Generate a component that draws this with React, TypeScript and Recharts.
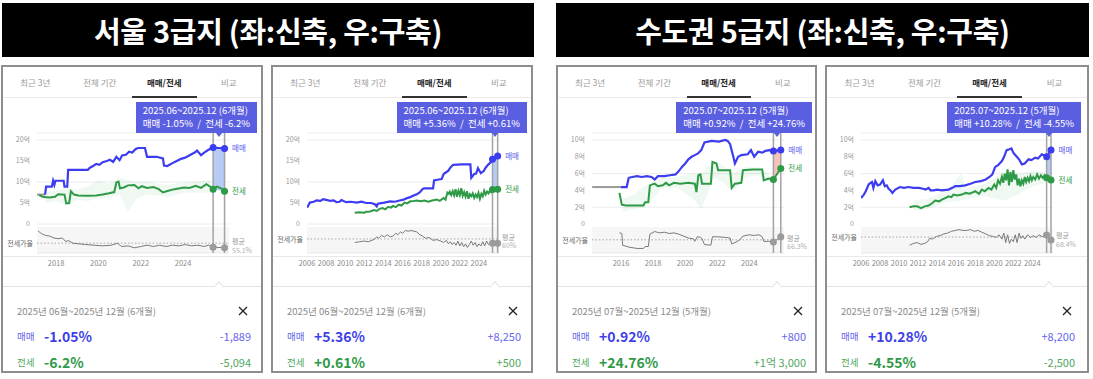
import React from 'react';
import {
  ComposedChart,
  Line,
  Area,
  XAxis,
  YAxis,
  CartesianGrid,
  ReferenceLine,
  ReferenceDot,
  ReferenceArea,
} from 'recharts';

type Pt = [number, number];
type Rng = [number, number, number];

const FONT = "'Noto Sans CJK KR', 'Noto Sans', sans-serif";
const SALE = '#3c3cf0';
const JEONSE = '#2e9a47';
const TIP_BG = '#5a5ee0';

// ---- 서울 3급지 신축 ----
const seoulNewPre: Pt[] = [[2017.1, 7.0], [2017.48, 7.0]];
const seoulNewSale: Pt[] = [
  [2017.48, 7.0], [2017.53, 8.9], [2017.8, 8.9], [2017.86, 10.3], [2017.92, 9.3], [2017.97, 10.3],
  [2018.36, 10.3], [2018.4, 8.9], [2018.53, 8.9], [2018.57, 12.9], [2019.5, 12.9], [2019.6, 13.4],
  [2019.75, 13.8], [2019.9, 14.3], [2020.05, 14.1], [2020.2, 14.7], [2020.4, 15.0], [2020.55, 15.3],
  [2020.7, 14.8], [2020.85, 16.0], [2021.0, 15.2], [2021.12, 16.3], [2021.3, 16.5], [2021.45, 17.2],
  [2021.6, 17.0], [2021.75, 17.8], [2021.87, 18.1], [2022.2, 18.1], [2022.3, 16.0], [2022.75, 16.0],
  [2023.05, 15.6], [2023.1, 13.9], [2023.25, 13.8], [2023.5, 14.5], [2023.7, 15.0], [2023.9, 15.5],
  [2024.1, 15.8], [2024.35, 16.5], [2024.55, 17.0], [2024.66, 17.5], [2024.85, 16.4], [2025.0, 17.0],
  [2025.18, 17.6], [2025.3, 17.9], [2025.42, 18.2], [2025.7, 18.1], [2025.96, 18.0],
];
const seoulNewJeonse: Pt[] = [
  [2017.2, 6.9], [2017.4, 6.4], [2017.7, 6.3], [2017.95, 6.5], [2018.1, 7.1], [2018.4, 7.0],
  [2018.48, 4.9], [2018.62, 5.0], [2018.7, 7.8], [2018.85, 7.0], [2019.05, 6.8], [2019.5, 6.7],
  [2019.9, 6.8], [2020.2, 7.0], [2020.5, 7.3], [2020.75, 7.6], [2020.85, 9.9], [2020.95, 10.1],
  [2021.02, 8.5], [2021.2, 8.7], [2021.4, 9.2], [2021.7, 9.3], [2021.9, 8.5], [2022.05, 9.0],
  [2022.3, 8.6], [2022.6, 8.8], [2022.85, 8.3], [2023.05, 7.5], [2023.3, 7.9], [2023.6, 8.3],
  [2023.85, 8.5], [2024.05, 8.7], [2024.3, 8.6], [2024.6, 9.1], [2024.85, 8.6], [2025.1, 9.5],
  [2025.25, 9.0], [2025.42, 8.3], [2025.6, 8.9], [2025.8, 8.5], [2025.96, 7.8],
];
const seoulNewSpread: Rng[] = [
  [2017.5, 5.0, 7.5], [2018.0, 5.5, 8.0], [2018.5, 4.5, 8.5], [2019.0, 5.8, 8.2], [2019.5, 5.5, 9.0],
  [2020.0, 6.0, 10.5], [2020.5, 6.2, 9.5], [2021.0, 7.0, 11.0], [2021.4, 3.0, 10.5], [2021.8, 6.0, 10.0],
  [2022.3, 7.0, 10.2], [2022.8, 6.8, 9.5], [2023.3, 6.5, 9.3], [2023.8, 7.2, 9.8], [2024.3, 7.5, 10.0],
  [2024.8, 7.4, 10.2], [2025.3, 7.5, 10.5],
];
const seoulNewRatio: Pt[] = [
  [2017.15, 74], [2017.3, 70], [2017.5, 67], [2017.7, 66], [2017.9, 63], [2018.1, 62], [2018.3, 63],
  [2018.45, 58], [2018.6, 59], [2018.8, 55], [2019.1, 54], [2019.4, 53], [2019.8, 52], [2020.2, 51],
  [2020.6, 52], [2020.9, 55], [2021.1, 50], [2021.4, 51], [2021.7, 48], [2022.0, 50], [2022.3, 52],
  [2022.6, 50], [2022.9, 52], [2023.2, 50], [2023.5, 52], [2023.8, 51], [2024.1, 53], [2024.4, 51],
  [2024.7, 52], [2025.0, 50], [2025.2, 52], [2025.42, 49], [2025.96, 48],
];

// ---- 서울 3급지 구축 ----
const seoulOldSale: Pt[] = [
  [2006.03, 3.9], [2006.3, 5.1], [2006.7, 5.3], [2007.0, 5.6], [2007.4, 5.5], [2007.7, 5.9],
  [2008.1, 5.7], [2008.4, 5.5], [2008.8, 5.6], [2009.1, 5.2], [2009.4, 5.3], [2009.6, 5.7],
  [2010.1, 5.2], [2010.6, 5.3], [2011.2, 5.1], [2011.7, 5.3], [2012.2, 5.0], [2012.7, 5.0],
  [2013.1, 4.7], [2013.3, 4.2], [2013.4, 4.8], [2013.6, 4.9], [2014.1, 5.1], [2014.7, 5.4],
  [2015.2, 5.3], [2015.7, 5.6], [2016.1, 5.8], [2016.4, 6.1], [2016.8, 6.4], [2017.1, 6.7],
  [2017.5, 7.1], [2017.8, 7.5], [2018.1, 8.3], [2018.25, 8.5], [2019.2, 8.5], [2019.3, 10.4],
  [2019.8, 10.6], [2020.1, 10.7], [2020.3, 11.9], [2020.8, 12.7], [2021.0, 13.4], [2021.3, 14.1],
  [2022.2, 14.2], [2023.1, 14.2], [2023.2, 11.0], [2023.5, 11.9], [2023.7, 12.0], [2023.9, 13.3],
  [2024.2, 12.1], [2024.5, 12.6], [2024.7, 13.4], [2025.0, 14.2], [2025.2, 14.6], [2025.42, 15.4],
  [2025.96, 16.2],
];
const seoulOldJeonse: Pt[] = [
  [2011.0, 2.7], [2011.5, 2.8], [2012.0, 2.7], [2012.2, 2.9], [2012.6, 3.0], [2013.0, 3.3],
  [2013.3, 3.1], [2013.6, 3.6], [2013.9, 3.8], [2014.2, 3.5], [2014.5, 4.1], [2014.8, 3.9],
  [2015.0, 4.3], [2015.3, 4.0], [2015.6, 4.6], [2015.9, 4.4], [2016.2, 5.1], [2016.5, 4.9],
  [2016.8, 5.4], [2017.2, 5.5], [2017.5, 5.6], [2017.9, 5.4], [2018.3, 5.6], [2018.7, 5.3],
  [2019.1, 5.6], [2019.6, 5.8], [2019.9, 5.5], [2020.3, 6.2], [2020.5, 5.8], [2020.7, 7.5],
  [2020.85, 7.2], [2020.95, 7.7], [2021.1, 6.9], [2021.25, 7.8], [2021.4, 6.8], [2021.55, 8.3],
  [2021.7, 6.5], [2021.85, 7.9], [2022.0, 6.9], [2022.15, 8.5], [2022.3, 6.7], [2022.45, 7.6],
  [2022.6, 6.5], [2022.75, 7.8], [2022.9, 6.0], [2023.05, 7.1], [2023.2, 6.6], [2023.35, 7.3],
  [2023.5, 6.2], [2023.65, 7.0], [2023.8, 6.4], [2023.95, 7.4], [2024.1, 6.0], [2024.25, 7.2],
  [2024.4, 6.6], [2024.55, 7.9], [2024.7, 7.0], [2024.85, 7.7], [2025.0, 7.3], [2025.15, 8.0],
  [2025.28, 7.6], [2025.42, 8.2], [2025.96, 8.25],
];
const seoulOldRatio: Pt[] = [
  [2011.0, 55], [2011.5, 56], [2012.0, 57], [2012.4, 56], [2012.8, 58], [2013.1, 60], [2013.3, 63],
  [2013.5, 61], [2013.8, 65], [2014.1, 63], [2014.4, 66], [2014.7, 63], [2015.0, 64], [2015.3, 68],
  [2015.5, 66], [2015.8, 70], [2016.0, 68], [2016.3, 72], [2016.6, 71], [2016.9, 72], [2017.2, 71],
  [2017.5, 70], [2017.8, 66], [2018.1, 64], [2018.4, 61], [2018.8, 62], [2019.2, 58], [2019.6, 59],
  [2020.0, 57], [2020.3, 55], [2020.6, 58], [2020.8, 53], [2021.0, 56], [2021.2, 52], [2021.4, 55],
  [2021.6, 51], [2021.8, 57], [2022.0, 50], [2022.2, 55], [2022.4, 49], [2022.6, 53], [2022.8, 48],
  [2023.0, 52], [2023.2, 57], [2023.4, 51], [2023.6, 55], [2023.8, 49], [2024.0, 53], [2024.2, 50],
  [2024.4, 56], [2024.6, 50], [2024.8, 57], [2025.0, 52], [2025.2, 55], [2025.42, 54], [2025.96, 54],
];

// ---- 수도권 5급지 신축 ----
const metroNewPre: Pt[] = [[2014.2, 4.4], [2016.0, 4.4]];
const metroNewSale: Pt[] = [
  [2016.0, 4.4], [2016.35, 4.4], [2016.48, 5.5], [2016.7, 5.6], [2017.0, 5.7], [2017.3, 5.6],
  [2017.6, 5.7], [2017.9, 5.6], [2018.1, 5.3], [2018.3, 5.7], [2018.7, 5.7], [2019.05, 5.8],
  [2019.4, 5.9], [2019.6, 6.3], [2019.8, 6.8], [2020.0, 7.2], [2020.2, 7.7], [2020.4, 8.0],
  [2020.6, 8.2], [2020.8, 8.4], [2021.0, 8.8], [2021.2, 9.7], [2021.65, 9.9], [2022.1, 9.8],
  [2022.5, 10.0], [2022.65, 9.9], [2022.8, 9.5], [2023.0, 8.0], [2023.1, 7.2], [2023.3, 8.0],
  [2023.5, 8.2], [2023.9, 8.3], [2024.1, 8.8], [2024.3, 8.0], [2024.55, 8.6], [2024.8, 8.5],
  [2025.0, 8.7], [2025.25, 8.8], [2025.5, 8.7], [2025.96, 8.8],
];
const metroNewJeonse: Pt[] = [
  [2015.9, 3.7], [2016.05, 2.3], [2016.3, 2.2], [2017.0, 2.2], [2017.4, 2.2], [2017.5, 2.6],
  [2017.7, 2.6], [2017.8, 4.6], [2018.1, 4.8], [2018.3, 4.5], [2018.6, 4.6], [2018.8, 4.9],
  [2019.0, 4.6], [2019.3, 4.9], [2019.7, 4.8], [2020.2, 4.9], [2020.6, 4.8], [2020.7, 3.8],
  [2020.82, 5.8], [2020.95, 5.9], [2021.05, 4.8], [2021.6, 4.8], [2021.7, 7.4], [2021.95, 7.2],
  [2022.05, 6.4], [2022.8, 6.4], [2022.9, 4.3], [2023.1, 4.8], [2023.5, 4.9], [2023.6, 6.4],
  [2024.2, 6.5], [2024.8, 6.5], [2024.9, 5.2], [2025.2, 5.4], [2025.5, 5.3], [2025.96, 6.6],
];
const metroNewSpread: Rng[] = [
  [2016.1, 1.5, 3.0], [2016.8, 1.8, 3.5], [2017.5, 2.0, 4.5], [2018.5, 4.2, 5.5], [2019.5, 4.3, 5.6],
  [2020.5, 3.0, 6.0], [2021.0, 1.8, 6.0], [2021.8, 5.5, 7.6], [2022.3, 5.0, 7.0], [2023.0, 4.0, 6.0],
  [2023.8, 5.5, 6.8], [2024.5, 5.8, 6.8], [2025.2, 5.0, 6.0],
];
const metroNewRatio: Pt[] = [
  [2015.9, 77], [2016.05, 76], [2016.1, 58], [2016.5, 55], [2017.0, 53], [2017.4, 53], [2017.5, 56],
  [2017.7, 56], [2017.8, 75], [2018.1, 79], [2018.4, 77], [2018.7, 78], [2019.0, 76], [2019.3, 77],
  [2019.6, 75], [2019.9, 72], [2020.2, 69], [2020.5, 68], [2020.6, 64], [2020.75, 71], [2020.95, 70],
  [2021.05, 68], [2021.2, 59], [2021.6, 58], [2021.7, 71], [2022.0, 71], [2022.5, 70], [2022.8, 69],
  [2022.9, 60], [2023.1, 62], [2023.4, 66], [2023.6, 72], [2024.0, 74], [2024.3, 73], [2024.6, 74],
  [2024.8, 71], [2024.9, 64], [2025.2, 64], [2025.5, 63], [2025.96, 71],
];

// ---- 수도권 5급지 구축 ----
const metroOldSale: Pt[] = [
  [2006.0, 3.1], [2006.3, 3.5], [2006.5, 3.9], [2006.8, 4.7], [2007.0, 4.9], [2007.15, 5.0],
  [2007.3, 4.3], [2007.5, 5.1], [2007.75, 4.6], [2008.0, 4.7], [2008.3, 5.2], [2008.5, 4.5],
  [2008.7, 4.6], [2008.9, 4.2], [2009.1, 4.0], [2009.3, 3.7], [2009.6, 4.1], [2010.1, 4.4],
  [2010.5, 4.3], [2011.0, 4.4], [2011.5, 4.3], [2012.1, 4.3], [2012.5, 4.2], [2012.8, 4.1],
  [2013.1, 4.3], [2013.3, 4.0], [2013.6, 4.0], [2014.0, 4.1], [2014.5, 4.0], [2015.2, 4.1],
  [2015.6, 4.3], [2015.9, 4.5], [2016.4, 4.5], [2016.95, 4.6], [2017.5, 4.8], [2018.0, 5.0],
  [2018.6, 5.1], [2019.1, 5.3], [2019.5, 5.6], [2019.8, 5.9], [2020.1, 6.8], [2020.4, 7.0],
  [2020.8, 7.5], [2021.0, 7.9], [2021.3, 8.8], [2021.6, 8.9], [2021.8, 9.0], [2022.0, 8.5],
  [2022.3, 8.1], [2022.6, 7.7], [2022.9, 7.1], [2023.2, 7.2], [2023.6, 7.7], [2023.9, 7.6],
  [2024.3, 7.9], [2024.6, 7.8], [2025.0, 8.3], [2025.2, 8.2], [2025.5, 8.0], [2025.96, 8.8],
];
const metroOldJeonse: Pt[] = [
  [2011.1, 2.0], [2011.5, 2.1], [2011.9, 2.1], [2012.3, 1.9], [2012.7, 2.1], [2013.1, 2.2],
  [2013.5, 2.5], [2013.8, 2.8], [2014.2, 2.7], [2014.5, 2.9], [2014.9, 3.1], [2015.2, 3.3],
  [2015.5, 3.2], [2015.7, 3.5], [2016.1, 3.4], [2016.6, 3.5], [2017.0, 3.7], [2017.4, 3.6],
  [2017.8, 3.8], [2018.0, 3.9], [2018.4, 3.6], [2018.7, 4.1], [2019.0, 3.9], [2019.4, 4.3],
  [2019.7, 4.1], [2020.0, 4.7], [2020.2, 4.3], [2020.4, 5.2], [2020.6, 4.8], [2020.8, 5.6],
  [2020.95, 4.9], [2021.1, 6.0], [2021.25, 5.2], [2021.4, 6.5], [2021.55, 4.6], [2021.7, 6.2],
  [2021.85, 5.0], [2022.0, 6.4], [2022.15, 5.3], [2022.3, 5.9], [2022.45, 4.6], [2022.6, 5.4],
  [2022.75, 4.5], [2022.9, 5.2], [2023.05, 4.8], [2023.2, 5.6], [2023.35, 5.0], [2023.5, 5.5],
  [2023.65, 5.1], [2023.8, 5.7], [2023.95, 5.2], [2024.1, 5.6], [2024.3, 5.3], [2024.5, 5.9],
  [2024.7, 5.4], [2024.9, 5.8], [2025.1, 5.5], [2025.3, 5.8], [2025.5, 5.5], [2025.96, 5.25],
];
const metroOldSpread: Rng[] = [
  [2011.5, 1.6, 2.8], [2013.0, 1.8, 3.0], [2015.0, 2.6, 3.9], [2016.5, 2.8, 6.0], [2017.0, 3.0, 4.3],
  [2019.0, 3.3, 4.8], [2021.0, 2.8, 6.2], [2022.5, 3.5, 6.0], [2024.0, 4.5, 6.3], [2025.3, 4.8, 6.2],
];
const metroOldRatio: Pt[] = [
  [2011.1, 59], [2011.5, 61], [2011.9, 62], [2012.3, 60], [2012.7, 61], [2013.0, 63], [2013.2, 67],
  [2013.5, 66], [2013.9, 69], [2014.3, 70], [2014.7, 72], [2015.1, 73], [2015.5, 75], [2015.9, 76],
  [2016.3, 77], [2016.7, 76], [2017.1, 76], [2017.5, 77], [2017.9, 75], [2018.3, 76], [2018.7, 74],
  [2019.1, 72], [2019.5, 70], [2019.9, 69], [2020.2, 68], [2020.5, 71], [2020.8, 66], [2021.0, 73],
  [2021.2, 62], [2021.4, 71], [2021.6, 61], [2021.8, 66], [2022.0, 63], [2022.2, 71], [2022.4, 62],
  [2022.6, 73], [2022.8, 67], [2023.0, 70], [2023.2, 66], [2023.5, 71], [2023.8, 68], [2024.1, 70],
  [2024.4, 68], [2024.7, 71], [2025.0, 69], [2025.3, 70], [2025.5, 70.8], [2025.96, 65],
];

const yearsShort = [2018, 2020, 2022, 2024];
const yearsMid = [2016, 2018, 2020, 2022, 2024];
const yearsLong = [2006, 2008, 2010, 2012, 2014, 2016, 2018, 2020, 2022, 2024];
const ticks20 = [0, 5, 10, 15, 20];
const ticks10 = [0, 2, 4, 6, 8, 10];
const tabs = ['최근 3년', '전체 기간', '매매/전세', '비교'];

const PLOT_L = 34;
const PLOT_R = 226;

function buildRows(series: Record<string, Pt[]>, ranges: Record<string, Rng[]>) {
  const rows: any[] = [];
  Object.entries(series).forEach(([key, pts]) => pts.forEach(([x, v]) => rows.push({ x, [key]: v })));
  Object.entries(ranges).forEach(([key, pts]) =>
    pts.forEach(([x, lo, hi]) => rows.push({ x, [key]: [lo, hi] })),
  );
  return rows.sort((a, b) => a.x - b.x);
}

const valueAt = (pts: Pt[], x: number) => {
  const p = pts.find((q) => Math.abs(q[0] - x) < 1e-6);
  return p ? p[1] : 0;
};

interface PanelProps {
  left: number;
  width: number;
  pre: Pt[];
  sale: Pt[];
  jeonse: Pt[];
  spread: Rng[];
  ratio: Pt[];
  ratioRange: [number, number];
  avg: number;
  priceMax: number;
  priceTicks: number[];
  xDomain: [number, number];
  xTicks: number[];
  sel: [number, number];
  bandColor: string;
  tipRange: string;
  tipLine: string;
  range: string;
  saleRate: string;
  saleAmt: string;
  jeonseRate: string;
  jeonseAmt: string;
}

function Panel(p: PanelProps) {
  const inner = p.width - 4;
  const [s, e] = p.sel;
  const pxP = 84 / p.priceMax;
  const pDomain = [-29 / pxP, p.priceMax + 7 / pxP];
  const pxR = 26 / (p.ratioRange[1] - p.ratioRange[0]);
  const rDomain = [p.ratioRange[0], p.ratioRange[0] + 120 / pxR];
  const band: Rng[] = [
    [s, valueAt(p.jeonse, s), valueAt(p.sale, s)],
    [e, valueAt(p.jeonse, e), valueAt(p.sale, e)],
  ];
  const data = buildRows(
    { pre: p.pre, sale: p.sale, jeonse: p.jeonse, ratio: p.ratio },
    { spread: p.spread, band },
  );
  const mid = PLOT_L + (((s + e) / 2 - p.xDomain[0]) / (p.xDomain[1] - p.xDomain[0])) * (PLOT_R - PLOT_L);

  const avgLabel = (props: any) => {
    const { x = 0, y = 0, width = 0 } = props.viewBox || {};
    return (
      <g>
        <text x={x - 4} y={y} textAnchor="end" dominantBaseline="central" fontSize={7} fill="#666">
          전세가율
        </text>
        <text x={x + width + 3} y={y - 2} dominantBaseline="central" fontSize={7} fill="#9a9a9a">
          평균
        </text>
        <text x={x + width + 3} y={y + 6.5} dominantBaseline="central" fontSize={7} fill="#b0b0b0">
          {p.avg}%
        </text>
      </g>
    );
  };

  return (
    <div
      style={{
        position: 'absolute',
        left: p.left,
        top: 65,
        width: p.width,
        height: 308,
        border: '2px solid #8e8e8e',
        boxSizing: 'border-box',
        background: '#fff',
      }}
    >
      {/* tabs */}
      <div style={{ position: 'absolute', left: 0, top: 0, width: inner, height: 30, display: 'flex', borderBottom: '1px solid #ececec' }}>
        {tabs.map((t, i) => (
          <div
            key={t}
            style={{
              flex: 1,
              textAlign: 'center',
              lineHeight: '30px',
              fontSize: 8.5,
              color: i === 2 ? '#222' : '#9a9a9a',
              fontWeight: i === 2 ? 700 : 400,
              borderBottom: i === 2 ? '2px solid #333' : 'none',
              boxSizing: 'border-box',
              height: 31,
            }}
          >
            {t}
          </div>
        ))}
      </div>

      <div style={{ position: 'absolute', left: 0, top: 60 }}>
        <ComposedChart width={inner} height={146} data={data} margin={{ top: 6, right: inner - PLOT_R, bottom: 0, left: 0 }}>
          <CartesianGrid vertical={false} stroke="#ededed" />
          <XAxis
            type="number"
            dataKey="x"
            domain={p.xDomain}
            ticks={p.xTicks}
            interval={0}
            allowDataOverflow
            tickLine={false}
            axisLine={false}
            height={20}
            tick={{ fontSize: 7.5, fill: '#8a8a8a' }}
          />
          <YAxis
            domain={pDomain}
            ticks={p.priceTicks}
            allowDataOverflow
            width={34}
            tickLine={false}
            axisLine={false}
            tickMargin={1}
            tick={{ fontSize: 7, fill: '#9a9a9a' }}
            tickFormatter={(v: number) => (v === 0 ? '0' : `${v}억`)}
          />
          <YAxis yAxisId="r" hide domain={rDomain} allowDataOverflow />
          <ReferenceArea yAxisId="r" y1={p.ratioRange[0]} y2={p.ratioRange[1]} fill="#000" fillOpacity={0.035} stroke="none" />
          <ReferenceLine yAxisId="r" y={p.avg} stroke="#aaa" strokeDasharray="1.5 2" label={{ content: avgLabel }} />
          <Area dataKey="spread" fill={JEONSE} fillOpacity={0.07} stroke="none" connectNulls isAnimationActive={false} />
          <Area dataKey="band" fill={p.bandColor} fillOpacity={0.85} stroke="none" connectNulls isAnimationActive={false} />
          <Line dataKey="pre" stroke="#9a9a9a" strokeWidth={2} dot={false} connectNulls isAnimationActive={false} />
          <Line dataKey="sale" stroke={SALE} strokeWidth={2.2} dot={false} connectNulls isAnimationActive={false} />
          <Line dataKey="jeonse" stroke={JEONSE} strokeWidth={2} dot={false} connectNulls isAnimationActive={false} />
          <Line yAxisId="r" dataKey="ratio" stroke="#7a7a7a" strokeWidth={1} dot={false} connectNulls isAnimationActive={false} />
          <ReferenceLine x={s} stroke="#a3a3a3" strokeWidth={1.5} />
          <ReferenceLine x={e} stroke="#a3a3a3" strokeWidth={1.5} />
          <ReferenceDot x={s} y={valueAt(p.sale, s)} r={3.5} fill={SALE} stroke="none" />
          <ReferenceDot
            x={e}
            y={valueAt(p.sale, e)}
            r={3.5}
            fill={SALE}
            stroke="none"
            label={{ value: '매매', position: 'right', offset: 4, fill: '#5a5aee', fontSize: 7.5 }}
          />
          <ReferenceDot x={s} y={valueAt(p.jeonse, s)} r={3.5} fill={JEONSE} stroke="none" />
          <ReferenceDot
            x={e}
            y={valueAt(p.jeonse, e)}
            r={3.5}
            fill={JEONSE}
            stroke="none"
            label={{ value: '전세', position: 'right', offset: 4, fill: JEONSE, fontSize: 7.5 }}
          />
          <ReferenceDot yAxisId="r" x={s} y={valueAt(p.ratio, s)} r={3.5} fill="#9b9b9b" stroke="none" />
          <ReferenceDot yAxisId="r" x={e} y={valueAt(p.ratio, e)} r={3.5} fill="#9b9b9b" stroke="none" />
        </ComposedChart>
      </div>

      {/* tooltip */}
      <div
        style={{
          position: 'absolute',
          right: inner - 254,
          top: 35,
          height: 31,
          boxSizing: 'border-box',
          padding: '2px 7px 0 7px',
          background: TIP_BG,
          color: '#fff',
          fontSize: 9.5,
          lineHeight: '13px',
          whiteSpace: 'pre',
        }}
      >
        <div>{p.tipRange}</div>
        <div>{p.tipLine}</div>
      </div>
      <div
        style={{
          position: 'absolute',
          left: mid - 3,
          top: 66,
          width: 0,
          height: 0,
          borderLeft: '3px solid transparent',
          borderRight: '3px solid transparent',
          borderTop: `4px solid ${TIP_BG}`,
        }}
      />

      {/* separators */}
      <div style={{ position: 'absolute', left: 0, top: 189, width: inner, borderTop: '1px solid #e8e8e8' }} />
      <div style={{ position: 'absolute', left: 0, top: 219, width: inner, borderTop: '1px solid #e3e3e3' }} />
      <div
        style={{
          position: 'absolute',
          left: mid - 4,
          top: 215.5,
          width: 7,
          height: 7,
          background: '#fff',
          borderLeft: '1px solid #e3e3e3',
          borderTop: '1px solid #e3e3e3',
          transform: 'rotate(45deg)',
        }}
      />

      {/* summary */}
      <div style={{ position: 'absolute', left: 14, top: 237, fontSize: 9.5, lineHeight: '14px', color: '#8a8a8a' }}>{p.range}</div>
      <svg style={{ position: 'absolute', left: 235, top: 239 }} width={10} height={10}>
        <line x1={1} y1={1} x2={9} y2={9} stroke="#222" strokeWidth={1.3} />
        <line x1={9} y1={1} x2={1} y2={9} stroke="#222" strokeWidth={1.3} />
      </svg>
      {[
        { label: '매매', rate: p.saleRate, amt: p.saleAmt, top: 269, c1: '#6565ec', c2: '#3f3fe8' },
        { label: '전세', rate: p.jeonseRate, amt: p.jeonseAmt, top: 295, c1: '#4fa85e', c2: '#2e9a47' },
      ].map((r) => (
        <div
          key={r.label}
          style={{
            position: 'absolute',
            left: 14,
            right: inner - 248,
            top: r.top - 10,
            height: 20,
            display: 'flex',
            alignItems: 'center',
          }}
        >
          <span style={{ fontSize: 9.5, color: r.c1, width: 27 }}>{r.label}</span>
          <span style={{ fontSize: 14, fontWeight: 700, color: r.c2 }}>{r.rate}</span>
          <span style={{ marginLeft: 'auto', fontSize: 11, color: r.c1 }}>{r.amt}</span>
        </div>
      ))}
    </div>
  );
}

function TitleBar({ left, width, text }: { left: number; width: number; text: string }) {
  return (
    <div
      style={{
        position: 'absolute',
        left,
        top: 3,
        width,
        height: 54,
        background: '#000',
        color: '#fff',
        fontSize: 29,
        fontWeight: 700,
        letterSpacing: -0.3,
        display: 'flex',
        alignItems: 'center',
        justifyContent: 'center',
      }}
    >
      {text}
    </div>
  );
}

export default function App() {
  return (
    <div
      style={{
        position: 'absolute',
        left: 0,
        top: 0,
        width: 1093,
        height: 379,
        background: '#fff',
        fontFamily: FONT,
        overflow: 'hidden',
      }}
    >
      <TitleBar left={2} width={532} text="서울 3급지 (좌:신축, 우:구축)" />
      <TitleBar left={556} width={533} text="수도권 5급지 (좌:신축, 우:구축)" />
      <Panel
        left={1}
        width={262}
        pre={seoulNewPre}
        sale={seoulNewSale}
        jeonse={seoulNewJeonse}
        spread={seoulNewSpread}
        ratio={seoulNewRatio}
        ratioRange={[40, 80]}
        avg={55.1}
        priceMax={20}
        priceTicks={ticks20}
        xDomain={[2017.1, 2026.17]}
        xTicks={yearsShort}
        sel={[2025.42, 2025.96]}
        bandColor="#a9c3f6"
        tipRange="2025.06~2025.12 (6개월)"
        tipLine="매매 -1.05%  /  전세 -6.2%"
        range="2025년 06월~2025년 12월 (6개월)"
        saleRate="-1.05%"
        saleAmt="-1,889"
        jeonseRate="-6.2%"
        jeonseAmt="-5,094"
      />
      <Panel
        left={271}
        width={262}
        pre={[]}
        sale={seoulOldSale}
        jeonse={seoulOldJeonse}
        spread={[]}
        ratio={seoulOldRatio}
        ratioRange={[40, 77]}
        avg={60}
        priceMax={20}
        priceTicks={ticks20}
        xDomain={[2006.0, 2026.1]}
        xTicks={yearsLong}
        sel={[2025.42, 2025.96]}
        bandColor="#a9c3f6"
        tipRange="2025.06~2025.12 (6개월)"
        tipLine="매매 +5.36%  /  전세 +0.61%"
        range="2025년 06월~2025년 12월 (6개월)"
        saleRate="+5.36%"
        saleAmt="+8,250"
        jeonseRate="+0.61%"
        jeonseAmt="+500"
      />
      <Panel
        left={556}
        width={261}
        pre={metroNewPre}
        sale={metroNewSale}
        jeonse={metroNewJeonse}
        spread={metroNewSpread}
        ratio={metroNewRatio}
        ratioRange={[46, 86]}
        avg={66.3}
        priceMax={10}
        priceTicks={ticks10}
        xDomain={[2014.19, 2026.16]}
        xTicks={yearsMid}
        sel={[2025.5, 2025.96]}
        bandColor="#f4b7ae"
        tipRange="2025.07~2025.12 (5개월)"
        tipLine="매매 +0.92%  /  전세 +24.76%"
        range="2025년 07월~2025년 12월 (5개월)"
        saleRate="+0.92%"
        saleAmt="+800"
        jeonseRate="+24.76%"
        jeonseAmt="+1억 3,000"
      />
      <Panel
        left={825}
        width={264}
        pre={[]}
        sale={metroOldSale}
        jeonse={metroOldJeonse}
        spread={metroOldSpread}
        ratio={metroOldRatio}
        ratioRange={[50, 80]}
        avg={68.4}
        priceMax={10}
        priceTicks={ticks10}
        xDomain={[2006.0, 2026.17]}
        xTicks={yearsLong}
        sel={[2025.5, 2025.96]}
        bandColor="#a9c3f6"
        tipRange="2025.07~2025.12 (5개월)"
        tipLine="매매 +10.28%  /  전세 -4.55%"
        range="2025년 07월~2025년 12월 (5개월)"
        saleRate="+10.28%"
        saleAmt="+8,200"
        jeonseRate="-4.55%"
        jeonseAmt="-2,500"
      />
    </div>
  );
}
